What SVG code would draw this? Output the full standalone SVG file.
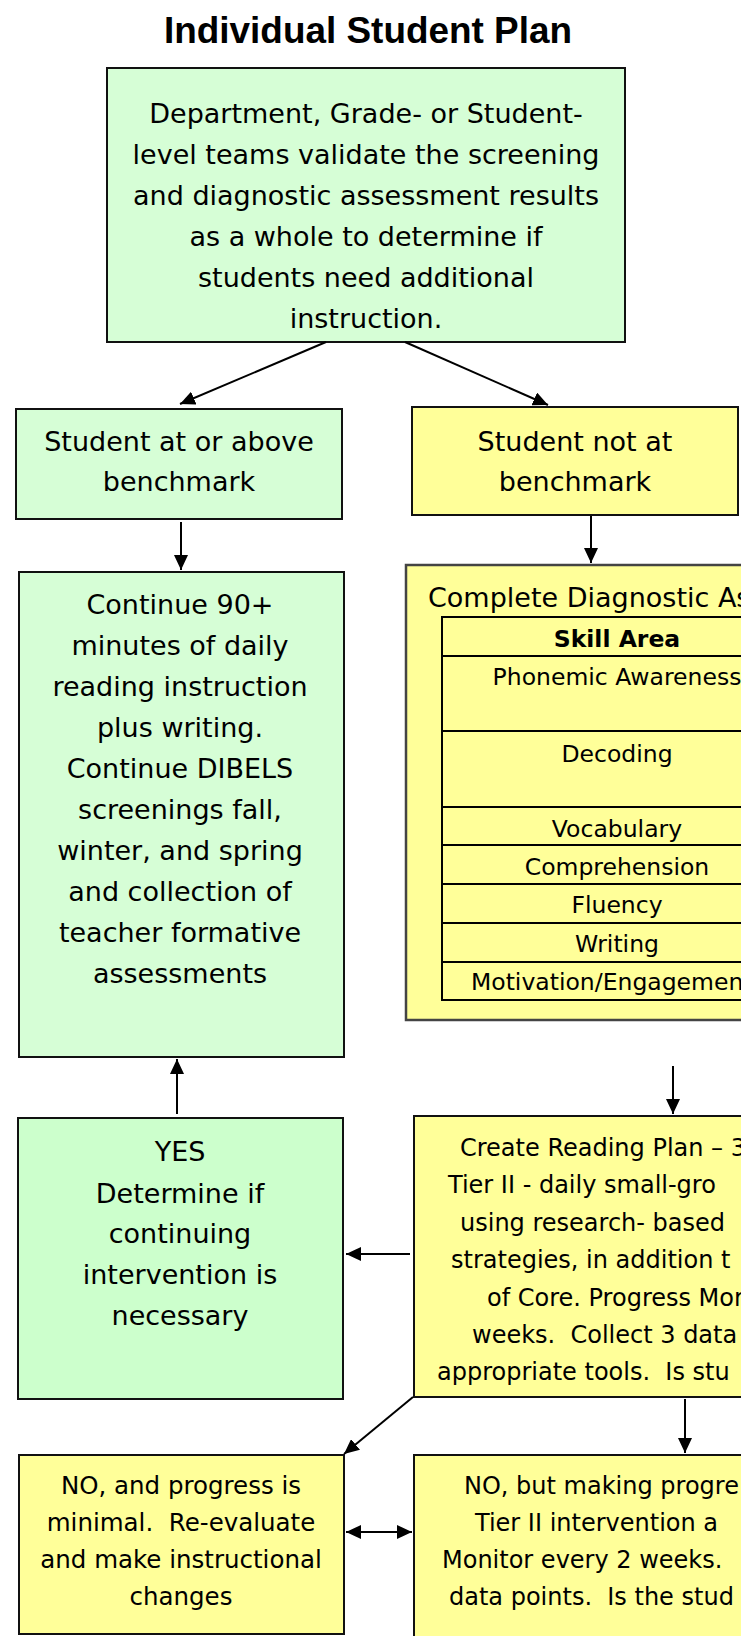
<svg xmlns="http://www.w3.org/2000/svg" width="741" height="1636" viewBox="0 0 741 1636">
<defs>
<style>
.t{font-family:"DejaVu Sans",sans-serif;font-size:27px;fill:#000;text-anchor:middle}
.s{font-family:"DejaVu Sans",sans-serif;font-size:24.5px;fill:#000;text-anchor:middle}
.p{font-family:"DejaVu Sans",sans-serif;font-size:24px;fill:#000;text-anchor:start;white-space:pre}
.tb{font-family:"DejaVu Sans",sans-serif;font-size:23.5px;fill:#000;text-anchor:middle}
.g{fill:#D6FED6;stroke:#111;stroke-width:2}
.g2{fill:#CCFFCC;stroke:#111;stroke-width:2}
.y{fill:#FFFF99;stroke:#111;stroke-width:2}
.c{stroke:#000;stroke-width:2;fill:none}
.tl{stroke:#000;stroke-width:2}
</style>
<marker id="ah" markerUnits="userSpaceOnUse" markerWidth="15" markerHeight="14" refX="15" refY="7" orient="auto">
<path d="M0,0 L15,7 L0,14 z" fill="#000"/>
</marker>
<marker id="ahs" markerUnits="userSpaceOnUse" markerWidth="15" markerHeight="14" refX="0" refY="7" orient="auto">
<path d="M15,0 L0,7 L15,14 z" fill="#000"/>
</marker>
</defs>
<rect width="741" height="1636" fill="#fff"/>
<text x="368" y="43" font-family="Liberation Sans, Arial, sans-serif" font-weight="bold" font-size="37" text-anchor="middle" textLength="408" lengthAdjust="spacingAndGlyphs">Individual Student Plan</text>

<g id="top">
<rect class="g" x="107" y="68" width="518" height="274"/>
<text class="t" x="366" y="123">Department, Grade- or Student-</text>
<text class="t" x="366" y="164">level teams validate the screening</text>
<text class="t" x="366" y="205">and diagnostic assessment results</text>
<text class="t" x="366" y="246">as a whole to determine if</text>
<text class="t" x="366" y="287">students need additional</text>
<text class="t" x="366" y="328">instruction.</text>
</g>

<g id="at-benchmark">
<rect class="g" x="16" y="409" width="326" height="110"/>
<text class="t" x="179" y="451">Student at or above</text>
<text class="t" x="179" y="491">benchmark</text>
</g>

<g id="not-benchmark">
<rect class="y" x="412" y="407" width="326" height="108"/>
<text class="t" x="575" y="451">Student not at</text>
<text class="t" x="575" y="491">benchmark</text>
</g>

<g id="continue">
<rect class="g" x="19" y="572" width="325" height="485"/>
<text class="t" x="180" y="614">Continue 90+</text>
<text class="t" x="180" y="655">minutes of daily</text>
<text class="t" x="180" y="696">reading instruction</text>
<text class="t" x="180" y="737">plus writing.</text>
<text class="t" x="180" y="778">Continue DIBELS</text>
<text class="t" x="180" y="819">screenings fall,</text>
<text class="t" x="180" y="860">winter, and spring</text>
<text class="t" x="180" y="901">and collection of</text>
<text class="t" x="180" y="942">teacher formative</text>
<text class="t" x="180" y="983">assessments</text>
</g>

<g id="diagnostic">
<rect x="406" y="565" width="360" height="455" fill="#FFFF99" stroke="#444" stroke-width="2.5"/>
<text class="t" x="428" y="607" style="text-anchor:start">Complete Diagnostic As</text>
<rect x="442" y="617" width="360" height="383" fill="none" stroke="#000" stroke-width="2"/>
<line class="tl" x1="442" y1="656" x2="760" y2="656"/>
<line class="tl" x1="442" y1="731" x2="760" y2="731"/>
<line class="tl" x1="442" y1="807" x2="760" y2="807"/>
<line class="tl" x1="442" y1="845" x2="760" y2="845"/>
<line class="tl" x1="442" y1="884" x2="760" y2="884"/>
<line class="tl" x1="442" y1="923" x2="760" y2="923"/>
<line class="tl" x1="442" y1="962" x2="760" y2="962"/>
<text class="tb" x="617" y="647" font-weight="bold">Skill Area</text>
<text class="tb" x="617" y="685">Phonemic Awareness</text>
<text class="tb" x="617" y="762">Decoding</text>
<text class="tb" x="617" y="837">Vocabulary</text>
<text class="tb" x="617" y="875">Comprehension</text>
<text class="tb" x="617" y="913">Fluency</text>
<text class="tb" x="617" y="952">Writing</text>
<text class="tb" x="471" y="990" style="text-anchor:start">Motivation/Engagemen</text>
</g>

<g id="yes">
<rect class="g2" x="18" y="1118" width="325" height="281"/>
<text class="t" x="180" y="1161">YES</text>
<text class="t" x="180" y="1203">Determine if</text>
<text class="t" x="180" y="1243">continuing</text>
<text class="t" x="180" y="1284">intervention is</text>
<text class="t" x="180" y="1325">necessary</text>
</g>

<g id="reading-plan">
<rect class="y" x="414" y="1116" width="360" height="281"/>
<text class="p" x="460" y="1156">Create Reading Plan – 3</text>
<text class="p" x="448" y="1193">Tier II - daily small-gro</text>
<text class="p" x="460" y="1231">using research- based</text>
<text class="p" x="451" y="1268">strategies, in addition t</text>
<text class="p" x="487" y="1306">of Core. Progress Mor</text>
<text class="p" x="472" y="1343">weeks.  Collect 3 data</text>
<text class="p" x="437" y="1380">appropriate tools.  Is stu</text>
</g>

<g id="no-minimal">
<rect class="y" x="19" y="1455" width="325" height="179"/>
<text class="s" x="181" y="1494">NO, and progress is</text>
<text class="s" x="181" y="1531" style="white-space:pre">minimal.  Re-evaluate</text>
<text class="s" x="181" y="1568">and make instructional</text>
<text class="s" x="181" y="1605">changes</text>
</g>

<g id="no-progress">
<rect class="y" x="414" y="1455" width="360" height="200"/>
<text class="p" x="464" y="1494">NO, but making progre</text>
<text class="p" x="475" y="1531">Tier II intervention a</text>
<text class="p" x="442" y="1568">Monitor every 2 weeks.</text>
<text class="p" x="449" y="1605">data points.  Is the stud</text>
</g>

<g id="connectors">
<line class="c" x1="326" y1="342" x2="180" y2="404" marker-end="url(#ah)"/>
<line class="c" x1="405" y1="342" x2="548" y2="405" marker-end="url(#ah)"/>
<line class="c" x1="181" y1="522" x2="181" y2="570" marker-end="url(#ah)"/>
<line class="c" x1="591" y1="516" x2="591" y2="563" marker-end="url(#ah)"/>
<line class="c" x1="673" y1="1066" x2="673" y2="1114" marker-end="url(#ah)"/>
<line class="c" x1="410" y1="1254" x2="346" y2="1254" marker-end="url(#ah)"/>
<line class="c" x1="177" y1="1114" x2="177" y2="1059" marker-end="url(#ah)"/>
<line class="c" x1="413" y1="1397" x2="344" y2="1454" marker-end="url(#ah)"/>
<line class="c" x1="685" y1="1399" x2="685" y2="1453" marker-end="url(#ah)"/>
<line class="c" x1="346" y1="1532" x2="412" y2="1532" marker-start="url(#ahs)" marker-end="url(#ah)"/>
</g>
</svg>
